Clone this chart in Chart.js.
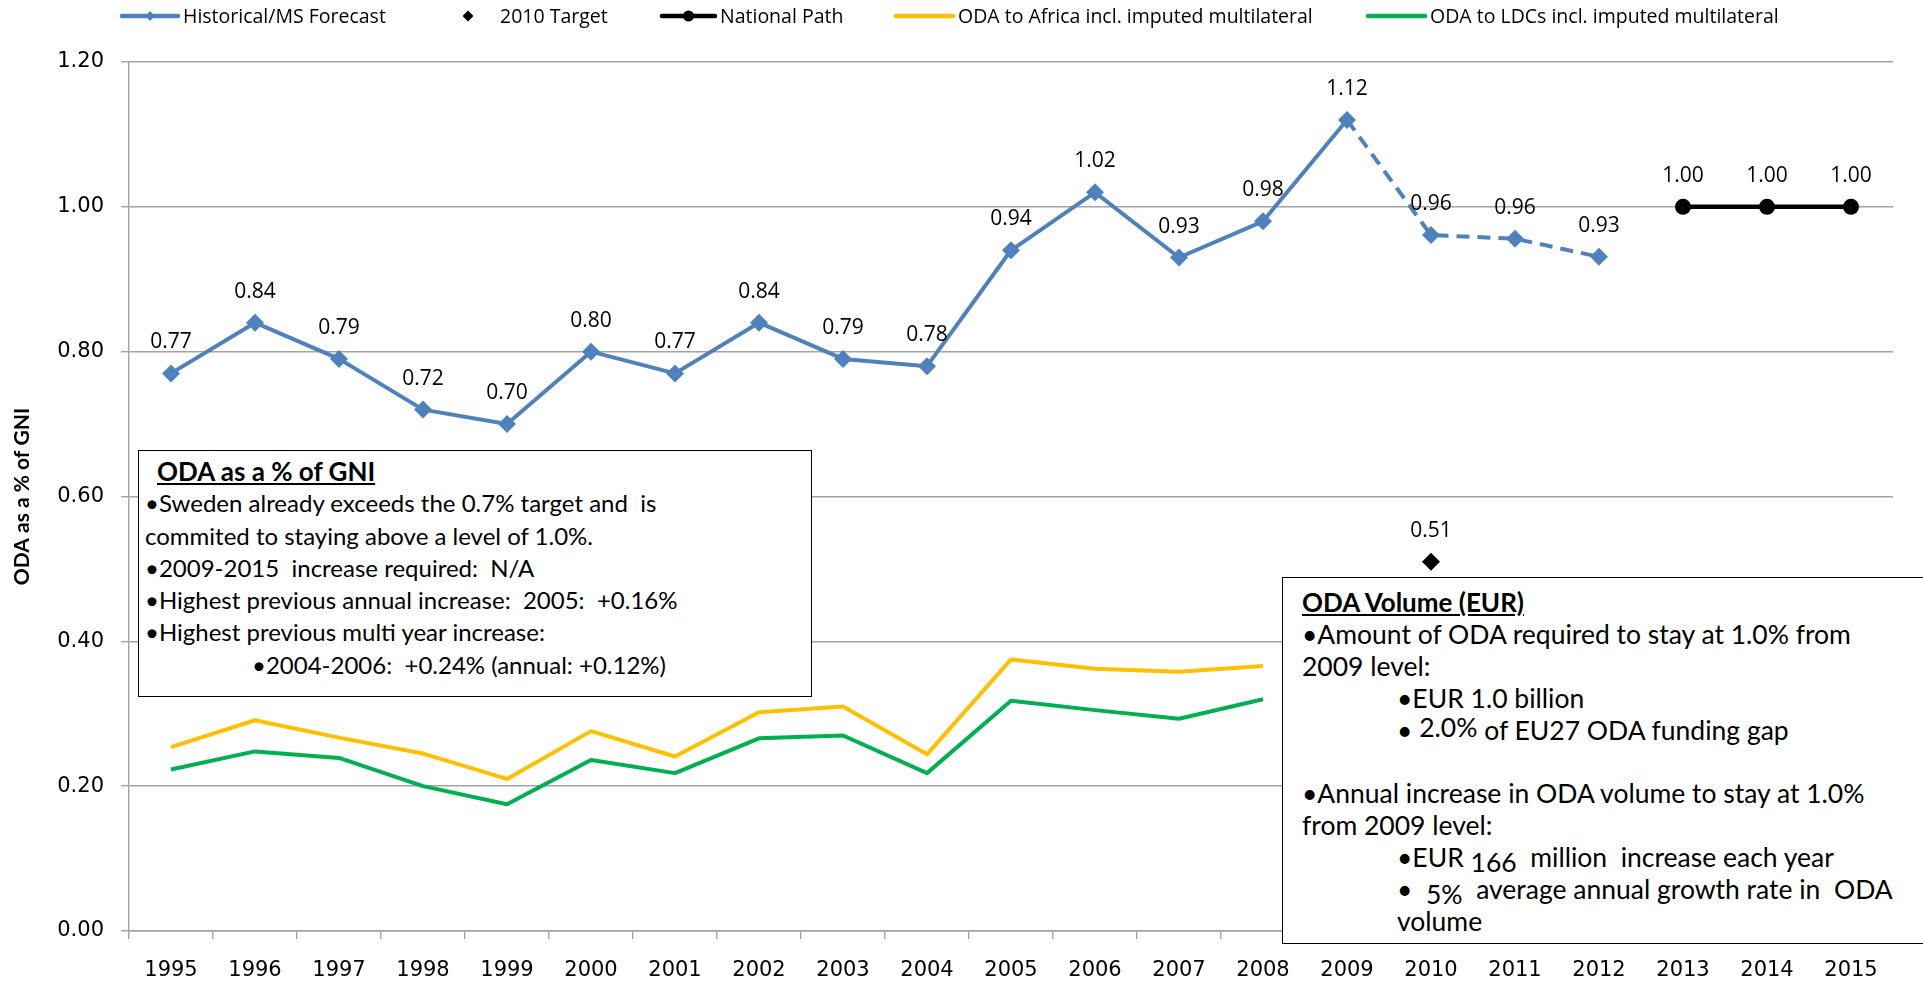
<!DOCTYPE html>
<html>
<head>
<meta charset="utf-8">
<title>Sweden – ODA as a % of GNI</title>
<script src="https://cdn.jsdelivr.net/npm/chart.js@4.4.1/dist/chart.umd.min.js"></script>
<style>
  html, body { margin: 0; padding: 0; background: #fff; }
  #wrap { position: relative; width: 1923px; height: 986px; overflow: hidden; }
  #chart { position: absolute; left: 0; top: 0; }
  .note {
    position: absolute; box-sizing: border-box; background: #fff; border: 1.5px solid #000;
    font-family: Lato, 'Open Sans', sans-serif; font-size: 24px;
    color: #000;
  }
  .note > div { white-space: pre; height: 32.3px; line-height: 32.3px; }
  .note .hd { font-weight: bold; text-decoration: underline; font-size: 26px; }
  .note.volume { font-size: 26.5px; }
  .note.volume > div { height: 31.9px; line-height: 31.9px; }
  .note .sub { padding-left: 95px; }
  .low { position: relative; top: 5px; }
  .high { position: relative; top: -3px; }
</style>
</head>
<body>
<div id="wrap">
  <canvas id="chart" width="1923" height="986"></canvas>

  <!-- ODA as share of GNI notes -->
  <div class="note" style="left:138px; top:450px; width:674px; height:247px; padding:4px 0 0 6px;">
    <div class="hd" style="padding-left:12px;">ODA as a % of GNI</div>
    <div>•Sweden already exceeds the 0.7% target and  is</div>
    <div>commited to staying above a level of 1.0%.</div>
    <div>•2009-2015  increase required:  N/A</div>
    <div>•Highest previous annual increase:  2005:  +0.16%</div>
    <div>•Highest previous multi year increase:</div>
    <div style="padding-left:107px;">•2004-2006:  +0.24% (annual: +0.12%)</div>
  </div>

  <!-- ODA volume notes -->
  <div class="note volume" style="left:1282px; top:577px; width:700px; height:367px; padding:9px 0 0 19px;">
    <div class="hd">ODA Volume (EUR)</div>
    <div>•Amount of ODA required to stay at 1.0% from</div>
    <div>2009 level:</div>
    <div class="sub">•EUR 1.0 billion</div>
    <div class="sub">• <span class="high">2.0%</span> of EU27 ODA funding gap</div>
    <div></div>
    <div>•Annual increase in ODA volume to stay at 1.0%</div>
    <div>from 2009 level:</div>
    <div class="sub">•EUR <span class="low">166</span>  million  increase each year</div>
    <div class="sub">•  <span class="low">5%</span>  average annual growth rate in  ODA</div>
    <div class="sub">volume</div>
  </div>
</div>

<script>
// Years on the category axis
const years = ['1995', '1996', '1997', '1998', '1999', '2000', '2001', '2002', '2003', '2004',
               '2005', '2006', '2007', '2008', '2009', '2010', '2011', '2012', '2013', '2014', '2015'];

// ODA as % of GNI; from 2009 on the line is the member-state forecast (dashed)
const historical = [0.77, 0.84, 0.79, 0.72, 0.70, 0.80, 0.77, 0.84, 0.79, 0.78,
                    0.94, 1.02, 0.93, 0.98, 1.12, 0.961, 0.956, 0.931, null, null, null];
const forecastFrom = '2009';

const target2010 = [null, null, null, null, null, null, null, null, null, null,
                    null, null, null, null, null, 0.51, null, null, null, null, null];

const nationalPath = [null, null, null, null, null, null, null, null, null, null,
                      null, null, null, null, null, null, null, null, 1.00, 1.00, 1.00];

const africa = [0.254, 0.291, 0.267, 0.245, 0.210, 0.276, 0.241, 0.302, 0.310, 0.244,
                0.375, 0.362, 0.358, 0.366, null, null, null, null, null, null, null];

const ldcs = [0.223, 0.248, 0.239, 0.200, 0.175, 0.236, 0.218, 0.266, 0.270, 0.218,
              0.318, 0.305, 0.293, 0.320, null, null, null, null, null, null, null];

const yTickValues = [0, 0.2, 0.4, 0.6, 0.8, 1.0, 1.2];

const GRID = '#a3a3a3';
const forecastIndex = years.indexOf(forecastFrom);

// Value labels above the points of the chosen datasets
const pointLabels = {
    id: 'pointLabels',
    afterDatasetsDraw(chart, args, opts) {
        const ctx = chart.ctx;
        ctx.save();
        ctx.font = '21px "Open Sans"';
        ctx.fillStyle = '#000';
        ctx.textAlign = 'center';
        ctx.textBaseline = 'middle';
        opts.datasets.forEach(i => {
            const meta = chart.getDatasetMeta(i);
            meta.data.forEach((pt, j) => {
                const v = chart.data.datasets[i].data[j];
                if (v === null || v === undefined) return;
                ctx.fillText(v.toFixed(2), pt.x, pt.y - opts.offset);
            });
        });
        ctx.restore();
    }
};

// Single-row legend across the top, drawn from the dataset styles
const topLegend = {
    id: 'topLegend',
    afterDraw(chart, args, opts) {
        const ctx = chart.ctx;
        ctx.save();
        ctx.font = '19.5px "Open Sans"';
        ctx.textBaseline = 'middle';
        opts.slots.forEach((slot, i) => {
            const ds = chart.data.datasets[i];
            const y = opts.y;
            if (ds.showLine !== false) {
                ctx.strokeStyle = ds.borderColor;
                ctx.lineWidth = 4.5;
                ctx.lineCap = 'round';
                ctx.beginPath();
                ctx.moveTo(slot.x, y);
                ctx.lineTo(slot.x + slot.w, y);
                ctx.stroke();
            }
            if (ds.pointRadius > 0) {
                ctx.fillStyle = ds.backgroundColor;
                Chart.helpers.drawPoint(ctx, {
                    pointStyle: ds.pointStyle, radius: slot.r, rotation: 0, borderWidth: 0
                }, slot.x + slot.w / 2, y);
            }
            ctx.fillStyle = '#000';
            ctx.fillText(ds.label, slot.x + slot.w + (slot.gap || 5), y + 1);
        });
        ctx.restore();
    }
};

new Chart(document.getElementById('chart'), {
    type: 'line',
    data: {
        labels: years,
        datasets: [
            {
                label: 'Historical/MS Forecast',
                data: historical,
                borderColor: '#4F81BD',
                backgroundColor: '#4F81BD',
                borderWidth: 4,
                pointStyle: 'rectRot',
                pointRadius: 9,
                pointBorderWidth: 0,
                segment: {
                    borderDash: ctx => ctx.p0DataIndex >= forecastIndex ? [13, 8] : undefined
                }
            },
            {
                label: '2010 Target',
                data: target2010,
                showLine: false,
                borderColor: '#000',
                backgroundColor: '#000',
                pointStyle: 'rectRot',
                pointRadius: 9,
                pointBorderWidth: 0
            },
            {
                label: 'National Path',
                data: nationalPath,
                borderColor: '#000',
                backgroundColor: '#000',
                borderWidth: 4.5,
                pointStyle: 'circle',
                pointRadius: 8,
                pointBorderWidth: 0
            },
            {
                label: 'ODA to Africa incl. imputed multilateral',
                data: africa,
                borderColor: '#FFC000',
                backgroundColor: '#FFC000',
                borderWidth: 4,
                pointRadius: 0
            },
            {
                label: 'ODA to LDCs incl. imputed multilateral',
                data: ldcs,
                borderColor: '#00B050',
                backgroundColor: '#00B050',
                borderWidth: 4,
                pointRadius: 0
            }
        ]
    },
    options: {
        responsive: false,
        animation: false,
        events: [],
        layout: { padding: { top: 62, right: 30, bottom: 0, left: 0 } },
        elements: { line: { tension: 0, borderJoinStyle: 'round' } },
        scales: {
            x: {
                offset: true,
                afterFit: scale => { scale.height = 55; },
                grid: {
                    offset: true,
                    drawOnChartArea: false,
                    tickLength: 8,
                    color: GRID,
                    lineWidth: 1.4
                },
                border: { color: GRID, width: 1.4 },
                ticks: {
                    padding: 19,
                    color: '#000',
                    font: { family: 'DejaVu Sans', size: 21 },
                    maxRotation: 0,
                    autoSkip: false
                }
            },
            y: {
                min: 0,
                max: 1.2,
                afterFit: scale => { scale.width = 129; },
                afterBuildTicks: scale => { scale.ticks = yTickValues.map(v => ({ value: v })); },
                grid: { color: GRID, lineWidth: 1.4, tickLength: 8 },
                border: { color: GRID, width: 1.4 },
                ticks: {
                    padding: 17,
                    color: '#000',
                    font: { family: 'DejaVu Sans', size: 21 },
                    callback: v => Number(v).toFixed(2)
                },
                title: {
                    display: true,
                    text: 'ODA as a % of GNI',
                    color: '#000',
                    font: { family: 'Lato', size: 21, weight: 'bold' },
                    padding: { top: 10, bottom: 0 }
                }
            }
        },
        plugins: {
            legend: { display: false },
            tooltip: { enabled: false },
            pointLabels: { datasets: [0, 1, 2], offset: 31 },
            topLegend: {
                y: 16,
                slots: [
                    { x: 122, w: 56, r: 5 },
                    { x: 458, w: 20, r: 5.5, gap: 22 },
                    { x: 662, w: 53, r: 5.5 },
                    { x: 896, w: 57 },
                    { x: 1368, w: 57 }
                ]
            }
        }
    },
    plugins: [pointLabels, topLegend]
});
</script>
</body>
</html>
